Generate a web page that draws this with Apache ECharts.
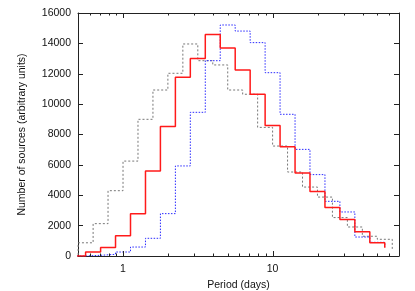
<!DOCTYPE html>
<html><head><meta charset="utf-8">
<script src="https://cdn.jsdelivr.net/npm/echarts@6/dist/echarts.min.js"></script>
<style>html,body{margin:0;padding:0;background:#fff}#c{width:415px;height:291px}</style>
</head><body><div id="c"></div>
<script>
// bin left edges (days) for red & blue histograms, last entry = closing edge
const redBlueEdges = [0.447, 0.562, 0.708, 0.891, 1.122, 1.413, 1.778, 2.239, 2.818, 3.548, 4.467, 5.623, 7.079, 8.913, 11.22, 14.13, 17.78, 22.39, 28.18, 35.48, 44.67, 56.23];
const redValues  = [0, 263, 553, 1340, 2790, 5600, 8520, 11770, 13000, 14580, 13700, 12250, 10650, 8600, 7200, 5460, 4240, 3190, 2400, 1600, 880, 550];
const blueValues = [0, 46, 110, 263, 590, 1165, 2790, 5930, 9460, 12860, 15210, 14810, 14050, 12070, 9330, 7020, 5360, 3600, 2900, 1250, 900, 600];
// gray histogram edges & values
const grayEdges  = [0.398, 0.501, 0.631, 0.794, 1.0, 1.259, 1.585, 1.995, 2.512, 3.162, 3.981, 5.012, 6.31, 7.943, 10, 12.59, 15.85, 19.95, 25.12, 31.62, 39.81, 50.12, 63.1];
const grayValues = [0, 870, 2130, 4300, 6250, 9000, 10930, 12030, 13960, 12860, 12580, 10930, 10650, 8470, 7240, 5530, 4540, 3880, 2530, 1910, 1300, 1100, 440];
// axis ticks
const xMajorTicks = [1, 10];
const xMinorTicks = [0.6, 0.7, 0.8, 0.9, 2, 3, 4, 5, 6, 7, 8, 9, 20, 30, 40, 50, 60, 70];
const xLabels = ['1', '10'];
const Y_MIN = 0, Y_MAX = 16000;

const FONT = 'Liberation Sans, Arial, sans-serif';
const FRAME = '#222';

function pairs(xs, ys) { return xs.map((x, i) => [x, ys[i]]); }

function xAxis(pos, withLabels) {
  const a = {
    type: 'log', logBase: 10, min: 0.5, max: 70, position: pos,
    axisLine: { show: true, onZero: false, lineStyle: { color: FRAME, width: 1 } },
    axisTick: { show: false },
    axisLabel: { show: withLabels, customValues: xMajorTicks, margin: 8,
      color: '#111', fontSize: 10.5, fontFamily: FONT,
      formatter: v => xLabels[xMajorTicks.indexOf(Math.round(v))] || '' },
    splitLine: { show: false }, minorTick: { show: false }
  };
  if (withLabels) {
    a.name = 'Period (days)'; a.nameLocation = 'middle'; a.nameGap = 21;
    a.nameTextStyle = { color: '#111', fontSize: 10.5, fontFamily: FONT };
  }
  return a;
}
function yAxis(pos, withLabels) {
  const a = {
    type: 'value', min: Y_MIN, max: Y_MAX, interval: 2000, position: pos,
    axisLine: { show: true, onZero: false, lineStyle: { color: FRAME, width: 1 } },
    axisTick: { show: true, inside: true, length: 5, lineStyle: { color: FRAME, width: 1 } },
    axisLabel: { show: withLabels, margin: 7, color: '#111', fontSize: 10.5, fontFamily: FONT,
      formatter: v => String(v) },
    splitLine: { show: false }
  };
  if (withLabels) {
    a.name = 'Number of sources (arbitrary units)'; a.nameLocation = 'middle'; a.nameGap = 50;
    a.nameTextStyle = { color: '#111', fontSize: 10.5, fontFamily: FONT };
  }
  return a;
}

// x ticks (bottom + mirrored top), drawn through the axis scale
function tickSeries(values, len) {
  return {
    type: 'custom', coordinateSystem: 'cartesian2d', xAxisIndex: 0, yAxisIndex: 0,
    clip: false, silent: true, z: 5,
    data: values.map(v => [v]),
    renderItem: (params, api) => {
      const b = api.coord([api.value(0), Y_MIN]);
      const t = api.coord([api.value(0), Y_MAX]);
      const x = Math.round(b[0]) + 0.5;
      const st = { stroke: FRAME, lineWidth: 1 };
      return { type: 'group', children: [
        { type: 'line', shape: { x1: x, y1: b[1], x2: x, y2: b[1] - len }, style: st },
        { type: 'line', shape: { x1: x, y1: t[1], x2: x, y2: t[1] + len }, style: st }
      ] };
    }
  };
}

const chart = echarts.init(document.getElementById('c'), null, { renderer: 'canvas' });
chart.setOption({
  animation: false,
  backgroundColor: '#fff',
  grid: { left: 78, right: 16, top: 13, bottom: 35, containLabel: false, outerBoundsMode: 'none' },
  xAxis: [xAxis('bottom', true), xAxis('top', false)],
  yAxis: [yAxis('left', true), yAxis('right', false)],
  series: [
    tickSeries(xMajorTicks, 5),
    tickSeries(xMinorTicks, 2.5),
    { type: 'line', step: 'end', symbol: 'none', data: pairs(grayEdges, grayValues), xAxisIndex: 0, yAxisIndex: 0,
      lineStyle: { color: '#777', width: 1, type: [2, 2] } },
    { type: 'line', step: 'end', symbol: 'none', data: pairs(redBlueEdges, blueValues), xAxisIndex: 0, yAxisIndex: 0,
      lineStyle: { color: '#2a2aff', width: 1, type: [1.5, 1.5] } },
    { type: 'line', step: 'end', symbol: 'none', data: pairs(redBlueEdges, redValues), xAxisIndex: 0, yAxisIndex: 0,
      lineStyle: { color: '#ff1a1a', width: 1.5 } }
  ]
});
</script></body></html>
